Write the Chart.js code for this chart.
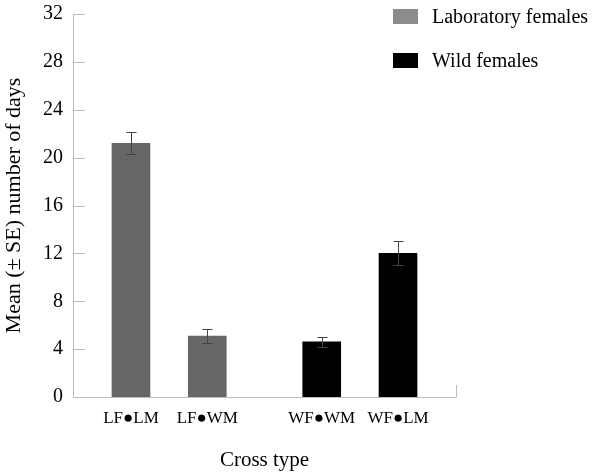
<!DOCTYPE html>
<html>
<head>
<meta charset="utf-8">
<script src="https://cdn.jsdelivr.net/npm/chart.js@4/dist/chart.umd.min.js"></script>
<style>
  html, body { margin: 0; padding: 0; background: #fff; }
  #wrap { position: relative; width: 600px; height: 476px; }
  .legend { position: absolute; left: 393px; font-family: "Liberation Serif", serif; font-size: 20px; color: #000; }
  .legend span.box { display: inline-block; width: 25px; height: 15px; vertical-align: middle; margin-right: 14px; }
  .legend span.txt { vertical-align: middle; }
</style>
</head>
<body>
<div id="wrap">
  <canvas id="chart" width="600" height="476"></canvas>
  <div class="legend" style="top:3px"><span class="box" style="background:#8c8c8c"></span><span class="txt">Laboratory females</span></div>
  <div class="legend" style="top:47px"><span class="box" style="background:#000"></span><span class="txt">Wild females</span></div>
</div>
<script>
// data
const categories = ["LF\u25CFLM", "LF\u25CFWM", "WF\u25CFWM", "WF\u25CFLM"];
const labMeans = [21.2, 5.1];
const labSE = [0.9, 0.55];
const wildMeans = [4.6, 12.0];
const wildSE = [0.45, 1.0];
const yTicks = [0, 4, 8, 12, 16, 20, 24, 28, 32];

const FONT = "'Liberation Serif', 'Times New Roman', serif";
const GROUP_GAP = 0.5; // extra space between the two female groups
const slot = (i) => i + (i >= 2 ? GROUP_GAP : 0);

const labData = labMeans.map((v, i) => ({ x: slot(i), y: v, se: labSE[i] }));
const wildData = wildMeans.map((v, i) => ({ x: slot(i + 2), y: v, se: wildSE[i] }));

// axes with inward ticks, drawn like the original
const axisFrame = {
  id: "axisFrame",
  afterDatasetsDraw(chart) {
    const { ctx, chartArea: a, scales } = chart;
    ctx.save();
    ctx.strokeStyle = "#bdbdbd";
    ctx.lineWidth = 1;
    ctx.beginPath();
    ctx.moveTo(a.left + 0.5, a.top);
    ctx.lineTo(a.left + 0.5, a.bottom + 0.5);
    ctx.lineTo(a.right + 0.5, a.bottom + 0.5);
    ctx.lineTo(a.right + 0.5, a.bottom - 12);
    yTicks.forEach((t) => {
      const y = Math.round(scales.y.getPixelForValue(t)) + 0.5;
      ctx.moveTo(a.left, y);
      ctx.lineTo(a.left + 12, y);
    });
    ctx.stroke();
    ctx.restore();
  },
};

const errorBars = {
  id: "errorBars",
  afterDatasetsDraw(chart) {
    const { ctx, scales } = chart;
    ctx.save();
    ctx.strokeStyle = "#444444";
    ctx.lineWidth = 1;
    chart.data.datasets.forEach((ds) => {
      ds.data.forEach((p) => {
        const x = Math.round(scales.x.getPixelForValue(p.x)) + 0.5;
        const yHi = Math.round(scales.y.getPixelForValue(p.y + p.se)) + 0.5;
        const yLo = Math.round(scales.y.getPixelForValue(p.y - p.se)) + 0.5;
        ctx.beginPath();
        ctx.moveTo(x, yHi); ctx.lineTo(x, yLo);
        ctx.moveTo(x - 5, yHi); ctx.lineTo(x + 5, yHi);
        ctx.moveTo(x - 5, yLo); ctx.lineTo(x + 5, yLo);
        ctx.stroke();
      });
    });
    ctx.restore();
  },
};

new Chart(document.getElementById("chart"), {
  type: "bar",
  data: {
    datasets: [
      { label: "Laboratory females", data: labData, backgroundColor: "#666666", barThickness: 38, grouped: false },
      { label: "Wild females", data: wildData, backgroundColor: "#000000", barThickness: 38, grouped: false },
    ],
  },
  options: {
    responsive: false,
    animation: false,
    layout: { padding: { left: 0, top: 13, right: 144, bottom: 0 } },
    plugins: { legend: { display: false }, tooltip: { enabled: false } },
    scales: {
      x: {
        type: "linear",
        min: -0.76,
        max: 4.26,
        offset: false,
        grid: { display: false },
        border: { display: false },
        afterBuildTicks: (s) => { s.ticks = categories.map((c, i) => ({ value: slot(i) })); },
        afterFit: (s) => { s.height = 79; },
        ticks: {
          autoSkip: false,
          maxRotation: 0,
          padding: 3,
          color: "#000",
          font: { family: FONT, size: 17 },
          callback: (v) => { const i = [0, 1, 2, 3].find((k) => slot(k) === v); return categories[i]; },
        },
        title: { display: true, text: "Cross type", color: "#000", font: { family: FONT, size: 21 }, padding: { top: 0, bottom: 3 } },
      },
      y: {
        min: 0,
        max: 32,
        grid: { display: false },
        border: { display: false },
        afterBuildTicks: (s) => { s.ticks = yTicks.map((v) => ({ value: v })); },
        afterFit: (s) => { s.width = 73; },
        ticks: { padding: 2, color: "#000", font: { family: FONT, size: 20 } },
        title: { display: true, text: "Mean (\u00B1 SE) number of days", color: "#000", font: { family: FONT, size: 22 }, padding: { top: 1, bottom: 0 } },
      },
    },
  },
  plugins: [axisFrame, errorBars],
});
</script>
</body>
</html>
